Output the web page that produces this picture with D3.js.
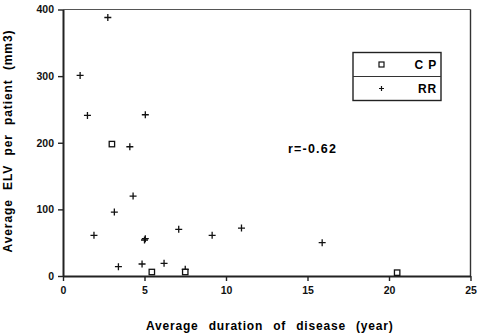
<!DOCTYPE html>
<html>
<head>
<meta charset="utf-8">
<script src="https://cdn.jsdelivr.net/npm/d3@7"></script>
<style>
  body { margin: 0; background: #fff; }
  svg { display: block; font-family: "Liberation Sans", Arial, Helvetica, sans-serif; font-weight: bold; }
</style>
</head>
<body>
<div id="chart"></div>
<script>
// values
var cpDuration = [3.0, 5.45, 7.5, 20.5];
var cpElv = [198, 6, 6, 5];

var rrDuration = [2.75, 1.05, 1.5, 5.05, 4.1, 4.3, 3.15, 1.9, 5.0, 5.05, 7.1, 9.15, 10.95, 15.9, 3.4, 4.85, 6.2, 7.5];
var rrElv = [388, 301, 241, 242, 194, 120, 96, 61, 54, 56, 70, 61, 72, 50, 14, 18, 19, 10];

var xTicks = [0, 5, 10, 15, 20, 25];
var yTicks = [0, 100, 200, 300, 400];

var legendLabels = ["C P", "RR"];
var corrLabel = "r=-0.62";

var W = 478, H = 334;
var margin = {top: 9.5, right: 7.5, bottom: 58, left: 63};
var w = W - margin.left - margin.right,
    h = H - margin.top - margin.bottom;

var svg = d3.select("#chart").append("svg")
  .attr("width", W)
  .attr("height", H);

var g = svg.append("g")
  .attr("transform", "translate(" + margin.left + "," + margin.top + ")");

var x = d3.scaleLinear().domain([0, 25]).range([0, w]);
var y = d3.scaleLinear().domain([0, 400]).range([h, 0]);

// top and right frame lines (thin)
g.append("line")
  .attr("x1", 0).attr("x2", w).attr("y1", 0).attr("y2", 0)
  .attr("stroke", "#555").attr("stroke-width", 1.2);
g.append("line")
  .attr("x1", w).attr("x2", w).attr("y1", 0).attr("y2", h)
  .attr("stroke", "#333").attr("stroke-width", 1.4);

// axes
var xAxis = g.append("g")
  .attr("transform", "translate(0," + h + ")")
  .call(d3.axisBottom(x).tickValues(xTicks).tickSize(5).tickPadding(6).tickSizeOuter(0));
var yAxis = g.append("g")
  .call(d3.axisLeft(y).tickValues(yTicks).tickSize(5).tickPadding(4).tickSizeOuter(0));

[xAxis, yAxis].forEach(function(a) {
  a.select(".domain").attr("stroke", "#222").attr("stroke-width", 2);
  a.selectAll(".tick line").attr("stroke", "#222").attr("stroke-width", 1.4);
  a.selectAll(".tick text")
    .attr("fill", "#111")
    .style("font-family", "'Liberation Sans', Arial, sans-serif")
    .style("font-weight", "bold")
    .style("font-size", "10.5px");
});

// RR points: plus signs
var rrData = rrDuration.map(function(d, i) { return {x: d, y: rrElv[i]}; });
var cpData = cpDuration.map(function(d, i) { return {x: d, y: cpElv[i]}; });

var plusPath = "M-3.5,0H3.5M0,-3.5V3.5";

g.selectAll("path.rr")
  .data(rrData)
  .enter()
  .append("path")
  .attr("class", "rr")
  .attr("d", plusPath)
  .attr("transform", function(d) { return "translate(" + x(d.x) + "," + y(d.y) + ")"; })
  .attr("stroke", "#111")
  .attr("stroke-width", 1.3)
  .attr("fill", "none");

// CP points: open squares
g.selectAll("rect.cp")
  .data(cpData)
  .enter()
  .append("rect")
  .attr("class", "cp")
  .attr("x", function(d) { return x(d.x) - 2.7; })
  .attr("y", function(d) { return y(d.y) - 2.7; })
  .attr("width", 5.4)
  .attr("height", 5.4)
  .attr("stroke", "#111")
  .attr("stroke-width", 1.3)
  .attr("fill", "#fff");

// legend box
var legend = svg.append("g").attr("transform", "translate(353,52.5)");
var lw = 88, lh = 48;
legend.append("rect")
  .attr("width", lw).attr("height", lh)
  .attr("fill", "#fff").attr("stroke", "#222").attr("stroke-width", 1.4);
legend.append("line")
  .attr("x1", 0).attr("x2", lw).attr("y1", lh / 2).attr("y2", lh / 2)
  .attr("stroke", "#333").attr("stroke-width", 1.2);

legend.append("rect")
  .attr("x", 26).attr("y", 9.5).attr("width", 5).attr("height", 5)
  .attr("fill", "#fff").attr("stroke", "#111").attr("stroke-width", 1.2);
legend.append("path")
  .attr("d", "M-2.5,0H2.5M0,-2.5V2.5")
  .attr("transform", "translate(28.5,36)")
  .attr("stroke", "#111").attr("stroke-width", 1.2);

legend.selectAll("text.lab")
  .data(legendLabels)
  .enter()
  .append("text")
  .attr("class", "lab")
  .attr("x", lw - 4)
  .attr("y", function(d, i) { return i * lh / 2 + 16; })
  .attr("text-anchor", "end")
  .style("font-size", "12px")
  .style("letter-spacing", "0.8px")
  .text(function(d) { return d; });

// correlation label
svg.append("text")
  .attr("x", 288)
  .attr("y", 153)
  .style("font-size", "12.5px")
  .style("letter-spacing", "1.2px")
  .text(corrLabel);

// axis titles
svg.append("text")
  .attr("x", margin.left + x(12.5) + 3)
  .attr("y", 330)
  .attr("text-anchor", "middle")
  .style("font-size", "12px")
  .style("word-spacing", "6px")
  .style("letter-spacing", "0.8px")
  .text("Average duration of disease (year)");

svg.append("text")
  .attr("transform", "translate(12,141) rotate(-90)")
  .attr("text-anchor", "middle")
  .style("font-size", "12px")
  .style("word-spacing", "5px")
  .style("letter-spacing", "0.9px")
  .text("Average ELV per patient (mm3)");
</script>
</body>
</html>
